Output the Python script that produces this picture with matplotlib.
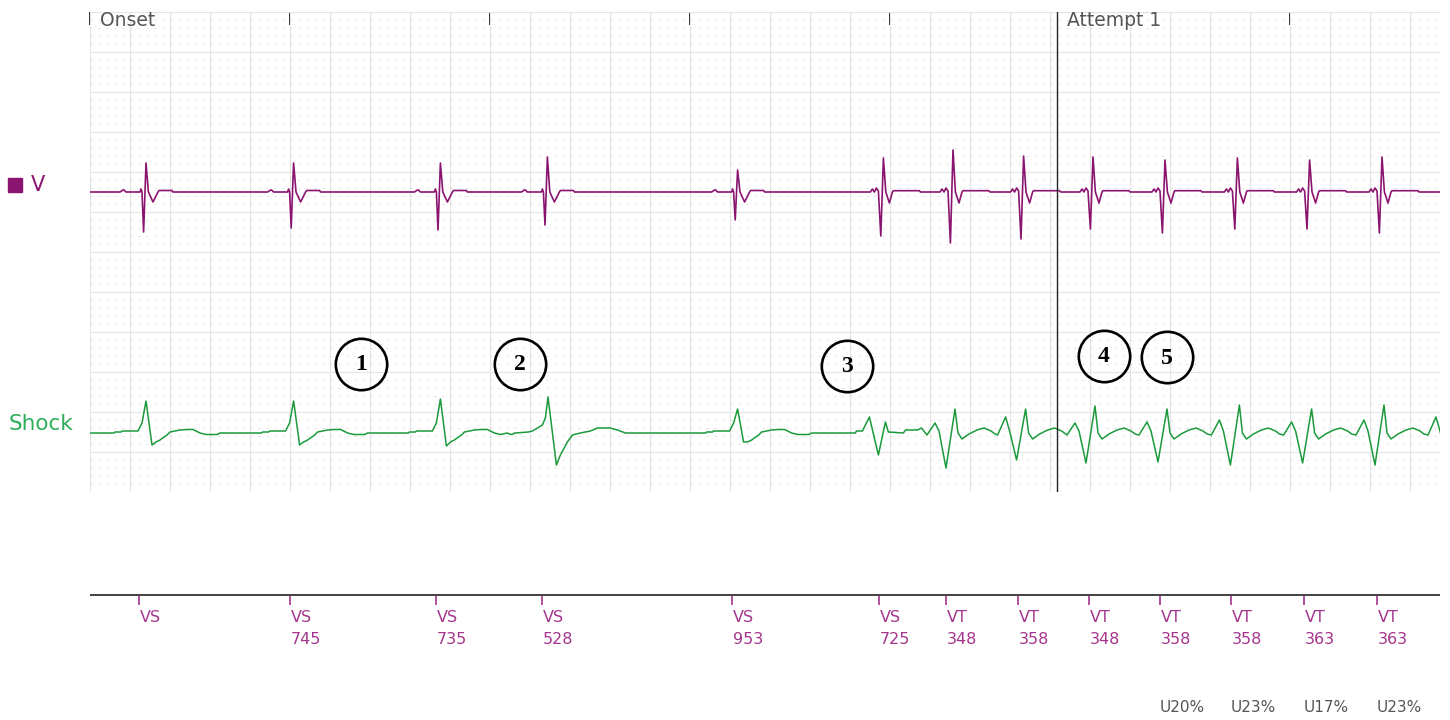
import matplotlib
matplotlib.use("Agg")
import matplotlib.pyplot as plt
from matplotlib.patches import Rectangle
import numpy as np

plt.rcParams['lines.scale_dashes'] = False
plt.rcParams['font.family'] = ['DejaVu Sans']

# ---------------- data (time in s, amplitude in display units) ----------------
# beat (spike) times read from the V channel; last one lies just beyond the strip
beat_times = [0.28, 1.018, 1.752, 2.287, 3.238, 3.967, 4.315, 4.668, 5.015,
              5.375, 5.737, 6.098, 6.46, 6.82]

# V channel: beat morphology, peak height and trough depth
v_kinds = ['S', 'S', 'S', 'S', 'S', 'T', 'T', 'T', 'T', 'T', 'T', 'T', 'T', 'T']
v_up    = [29, 29, 29, 35, 22, 34, 42, 36, 35, 32, 34, 32, 35, 34]
v_down  = [40, 36, 38, 33, 28, 44, 51, 47, 37, 41, 37, 37, 41, 40]

# Shock channel: morphology, peak, trough and pre-deflection
sh_kinds = ['S', 'S', 'S', 'P', 'S', 'X', 'T', 'T', 'T', 'T', 'T', 'T', 'T', 'T']
sh_up    = [32, 32, 34, 36, 24, 16, 24, 24, 27, 24, 28, 24, 28, 25]
sh_down  = [12, 12, 13, 32, 9, 22, 35, 27, 30, 29, 32, 30, 32, 30]
sh_pre   = [0, 0, 0, 0, 0, 0, 10, 16, 10, 11, 13, 11, 13, 16]

# beat templates: (time offset from spike, value); 'up'/'down'/'pre' take the per-beat value
V_TEMPLATES = {
    'S': [(-0.13, 0), (-0.115, 2), (-0.11, 2), (-0.1, 0), (-0.03, 0), (-0.025, 3),
          (-0.02, 0), (-0.012, 'down'), (0.0, 'up'), (0.012, 0), (0.035, -10),
          (0.06, 0), (0.065, 1.5), (0.13, 1.5), (0.135, 0)],
    'T': [(-0.12, 0), (-0.065, 0), (-0.055, 3), (-0.045, 0), (-0.035, 4), (-0.025, 1),
          (-0.013, 'down'), (0.0, 'up'), (0.012, 0), (0.03, -11), (0.045, 0),
          (0.05, 1.3), (0.18, 1.3), (0.185, 0), (0.2, 0)],
}
SH_TEMPLATES = {
    'S': [(-0.16, 0), (-0.155, 1), (-0.125, 1), (-0.12, 2), (-0.04, 2), (-0.02, 10),
          (0.0, 'up'), (0.03, 'down'), (0.05, -9), (0.07, -7), (0.105, -2), (0.12, 1),
          (0.17, 3), (0.205, 3.5), (0.235, 3.5), (0.27, 0), (0.3, -1.5), (0.355, -1.5),
          (0.37, 0)],
    'P': [(-0.2, 0), (-0.19, -1), (-0.17, -1), (-0.16, 0), (-0.095, 1), (-0.075, 2),
          (-0.05, 5), (-0.025, 8), (-0.01, 15), (0.003, 'up'), (0.045, 'down'),
          (0.065, -22), (0.1, -9), (0.125, -2), (0.165, 0), (0.215, 2), (0.25, 5),
          (0.315, 5), (0.35, 3), (0.39, 0)],
    'X': [(-0.14, 0), (-0.135, 2), (-0.105, 2), (-0.07, 'up'), (-0.025, 'down'),
          (0.01, 11), (0.025, 1), (0.1, 0), (0.11, 3), (0.17, 3), (0.19, 5)],
    'T': [(-0.13, -2), (-0.09, 'pre'), (-0.07, 2), (-0.035, 'down'), (0.01, 'up'),
          (0.025, 0), (0.045, -6), (0.08, -1), (0.12, 3), (0.155, 5), (0.19, 2),
          (0.21, -1)],
}

# device markers
marker_times  = [0.245, 1.0, 1.73, 2.26, 3.21, 3.945, 4.28, 4.64, 4.995, 5.35,
                 5.705, 6.07, 6.435]
marker_labels = ['VS', 'VS', 'VS', 'VS', 'VS', 'VS', 'VT', 'VT', 'VT', 'VT',
                 'VT', 'VT', 'VT']
marker_ms     = ['', '745', '735', '528', '953', '725', '348', '358', '348',
                 '358', '358', '363', '363']
u_labels      = ['', '', '', '', '', '', '', '', '', 'U20%', 'U23%', 'U17%', 'U23%']

# events along the top
event_labels = ['Onset', 'Attempt 1']
event_times  = [0.0, 4.835]

# circled annotations
note_labels = ['1', '2', '3', '4', '5']
note_t      = [1.355, 2.15, 3.785, 5.07, 5.385]
note_y      = [128, 128, 126, 136, 135]

STRIP_END = 6.75
V_BASE, SH_BASE = 300, 59

V_COLOR = '#8a1470'
SH_COLOR = '#1b9a3c'
MK_COLOR = '#a4358c'


def build_trace(kinds, ups, downs, templates, pres=None):
    pts = [(0.0, 0.0)]
    for i, (t0, k) in enumerate(zip(beat_times, kinds)):
        for dt, v in templates[k]:
            if v == 'up':
                val = ups[i]
            elif v == 'down':
                val = -downs[i]
            elif v == 'pre':
                val = pres[i]
            else:
                val = v
            pts.append((t0 + dt, val))
    pts.append((STRIP_END + 0.2, 0.0))
    pts.sort(key=lambda p: p[0])
    t = np.array([p[0] for p in pts])
    y = np.array([p[1] for p in pts])
    return t, y


fig = plt.figure(figsize=(14.5, 7.2), dpi=100)
ax = fig.add_axes([90 / 1450, 228 / 720, 1350 / 1450, 480 / 720])
ax.set_xlim(0, STRIP_END)
ax.set_ylim(0, 480)
ax.set_xticks(np.arange(0, STRIP_END + 0.001, 0.2))
ax.set_yticks(np.arange(0, 481, 40))
ax.set_yticks(np.arange(0, 481, 8), minor=True)
ax.grid(which='major', color='#e4e4e4', lw=0.8)
ax.grid(which='minor', axis='y', color='#dadada', lw=0.6, linestyle=(0, (1.4, 4.36)))
ax.tick_params(which='both', length=0, labelbottom=False, labelleft=False)
for s in ax.spines.values():
    s.set_visible(False)
ax.set_axisbelow(True)

# one-second ticks along the top
sec = ax.secondary_xaxis('top')
sec.set_xticks(np.arange(0, 7, 1))
sec.tick_params(direction='in', length=9, width=1.2, color='#111', labeltop=False)
sec.spines['top'].set_visible(False)

tv, yv = build_trace(v_kinds, v_up, v_down, V_TEMPLATES)
ax.plot(tv, V_BASE + yv, color=V_COLOR, lw=1.2)
ts, ys = build_trace(sh_kinds, sh_up, sh_down, SH_TEMPLATES, sh_pre)
ax.plot(ts, SH_BASE + ys, color=SH_COLOR, lw=1.1)

for lab, t in zip(event_labels, event_times):
    if t > 0:
        ax.axvline(t, color='#222', lw=1.0)
    ax.text(t + 0.05, 472, lab, fontsize=13.5, color='#555', va='center', ha='left')

ax.plot(note_t, note_y, 'o', ms=37, mfc='none', mec='black', mew=1.9)
for lab, t, y in zip(note_labels, note_t, note_y):
    ax.text(t, y - 1, lab, ha='center', va='center', fontsize=17,
            fontweight='bold', family=['Liberation Serif', 'DejaVu Serif'])

# marker channel
ax2 = fig.add_axes([90 / 1450, 0, 1350 / 1450, 130 / 720])
ax2.set_xlim(0, STRIP_END)
ax2.set_ylim(0, 130)
ax2.axis('off')
ax2.axhline(125, color='#333', lw=1.3)
ax2.vlines(marker_times, 115, 124, color=MK_COLOR, lw=1.2)
for t, lab, ms, u in zip(marker_times, marker_labels, marker_ms, u_labels):
    ax2.text(t + 0.005, 103, lab, color=MK_COLOR, fontsize=11.5, ha='left', va='center')
    if ms:
        ax2.text(t + 0.005, 80, ms, color=MK_COLOR, fontsize=11.5, ha='left', va='center')
    if u:
        ax2.text(t, 13, u, color='#555', fontsize=11, ha='left', va='center')

# channel labels
fig.patches.append(Rectangle((8 / 1450, 1 - 192 / 720), 14 / 1450, 14 / 720,
                             transform=fig.transFigure, color=V_COLOR))
fig.text(31 / 1450, 1 - 185 / 720, 'V', color=V_COLOR, fontsize=15, va='center')
fig.text(9 / 1450, 1 - 424 / 720, 'Shock', color='#2fae5a', fontsize=15.5, va='center')

fig.savefig('out.png', dpi=100)
